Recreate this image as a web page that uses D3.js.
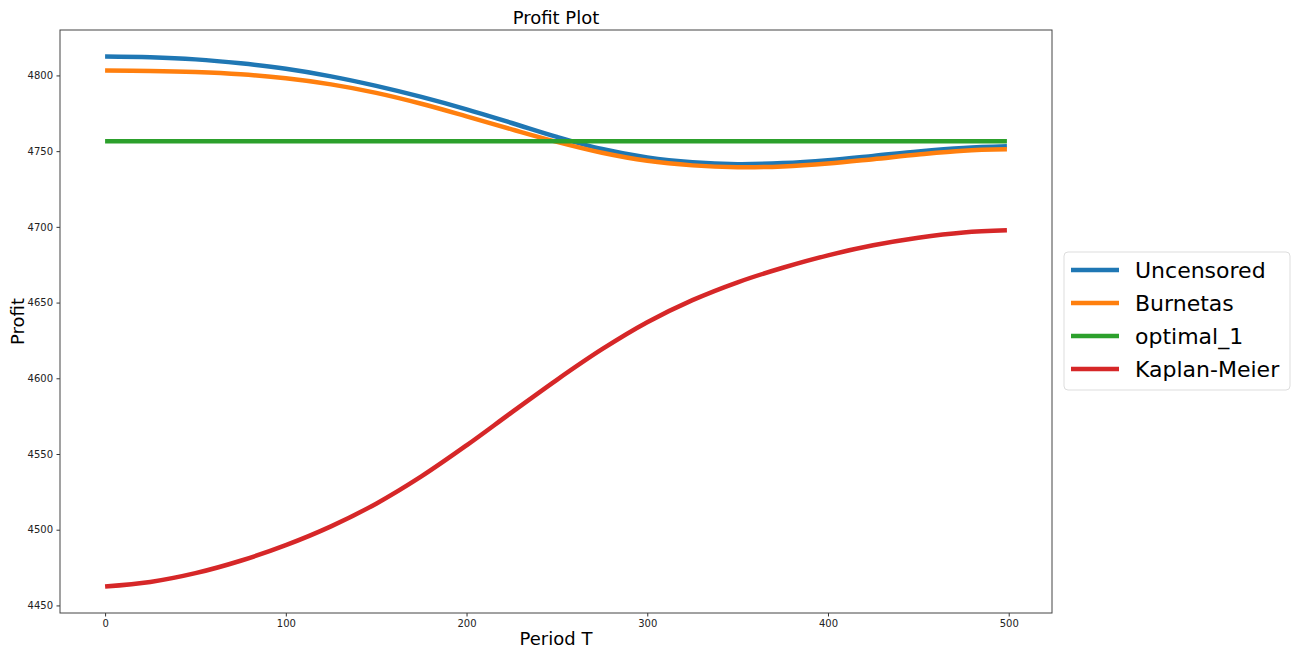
<!DOCTYPE html>
<html><head><meta charset="utf-8">
<script src="https://cdn.jsdelivr.net/npm/d3@7"></script>
<style>body{margin:0;background:#fff;} svg{display:block;font-family:"DejaVu Sans",sans-serif;}</style>
</head><body>
<svg id="c" width="1291" height="650"></svg>
<script>
const periods = [0, 25, 50, 75, 100, 125, 150, 175, 200, 225, 250, 275, 300, 325, 350, 375, 400, 425, 450, 475, 499];
const uncensored = [4812.5, 4812.0, 4810.6, 4808.0, 4804.4, 4799.4, 4793.1, 4785.8, 4777.6, 4768.6, 4759.4, 4751.4, 4745.8, 4742.6, 4741.4, 4742.1, 4744.0, 4746.8, 4749.8, 4752.1, 4753.2];
const burnetas = [4803.3, 4803.0, 4802.2, 4800.7, 4798.1, 4794.1, 4788.5, 4781.3, 4773.0, 4764.4, 4756.1, 4748.9, 4743.6, 4740.6, 4739.4, 4739.9, 4741.8, 4744.7, 4747.8, 4750.3, 4751.2];
const optimal1 = [4756.5, 4756.5];
const optimalX = [0, 499];
const kaplanMeier = [4462.5, 4465.5, 4471.3, 4479.5, 4489.8, 4502.2, 4517.2, 4535.2, 4555.7, 4577.5, 4599.0, 4619.2, 4637.0, 4651.6, 4663.4, 4673.0, 4681.2, 4687.8, 4692.8, 4696.3, 4697.7];
const seriesNames = ["Uncensored", "Burnetas", "optimal_1", "Kaplan-Meier"];
const colors = ["#1f77b4", "#ff7f0e", "#2ca02c", "#d62728"];
const xTicks = [0, 100, 200, 300, 400, 500];
const yTicks = [4450, 4500, 4550, 4600, 4650, 4700, 4750, 4800];

const svg = d3.select("#c");
const L = 60, R = 1052, T = 30, B = 613;
const x = d3.scaleLinear().domain([-24.95, 523.95]).range([L, R]);
const y = d3.scaleLinear().domain([4445.0, 4830.0]).range([B, T]);

const series = [
  {name: seriesNames[0], xs: periods, ys: uncensored},
  {name: seriesNames[1], xs: periods, ys: burnetas},
  {name: seriesNames[2], xs: optimalX, ys: optimal1},
  {name: seriesNames[3], xs: periods, ys: kaplanMeier}
];

const line = d3.line().x(d => x(d[0])).y(d => y(d[1])).curve(d3.curveCatmullRom.alpha(0.5));
series.forEach((s, i) => {
  svg.append("path")
    .datum(s.xs.map((v, j) => [v, s.ys[j]]))
    .attr("d", line).attr("fill", "none")
    .attr("stroke", colors[i]).attr("stroke-width", 4.5);
});

// axes
const xAxis = svg.append("g").attr("transform", `translate(0,${B})`)
  .call(d3.axisBottom(x).tickValues(xTicks).tickSize(3.5).tickPadding(3.5).tickFormat(d3.format("d")));
const yAxis = svg.append("g").attr("transform", `translate(${L},0)`)
  .call(d3.axisLeft(y).tickValues(yTicks).tickSize(3.5).tickPadding(3.5).tickFormat(d3.format("d")));
[xAxis, yAxis].forEach(a => {
  a.select(".domain").remove();
  a.selectAll("line").attr("stroke", "#333");
  a.selectAll("text").attr("font-size", 10).attr("fill", "#222").attr("font-family", "DejaVu Sans");
});
svg.append("rect").attr("x", L).attr("y", T).attr("width", R - L).attr("height", B - T)
  .attr("fill", "none").attr("stroke", "#444").attr("stroke-width", 1);

// titles
svg.append("text").attr("x", (L + R) / 2).attr("y", 24).attr("text-anchor", "middle")
  .attr("font-size", 18).attr("fill", "#000").text("Profit Plot");
svg.append("text").attr("x", (L + R) / 2).attr("y", 645).attr("text-anchor", "middle")
  .attr("font-size", 18).attr("fill", "#000").text("Period T");
svg.append("text").attr("transform", `translate(24,${(T + B) / 2}) rotate(-90)`).attr("text-anchor", "middle")
  .attr("font-size", 18).attr("fill", "#000").text("Profit");

// legend
const lg = svg.append("g");
lg.append("rect").attr("x", 1064).attr("y", 252).attr("width", 226).attr("height", 138).attr("rx", 4)
  .attr("fill", "#fff").attr("stroke", "#ddd").attr("stroke-width", 1);
seriesNames.forEach((n, i) => {
  const yy = 270 + i * 33;
  lg.append("line").attr("x1", 1071).attr("x2", 1119).attr("y1", yy).attr("y2", yy)
    .attr("stroke", colors[i]).attr("stroke-width", 4.5);
  lg.append("text").attr("x", 1135).attr("y", yy + 8).attr("font-size", 22).attr("fill", "#000").text(n);
});
</script>
</body></html>
